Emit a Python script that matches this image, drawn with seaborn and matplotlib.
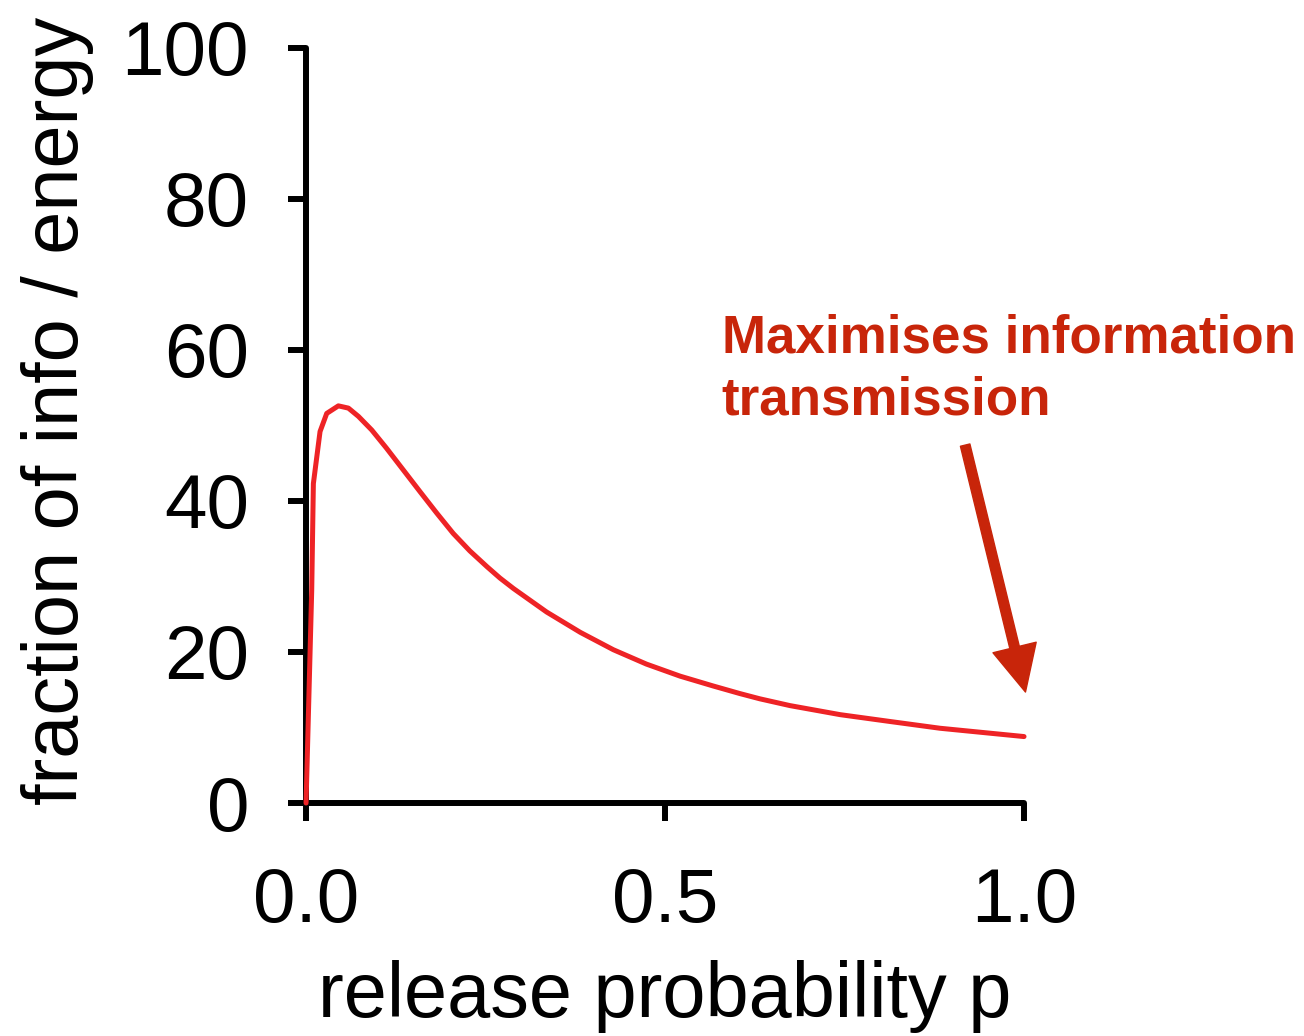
import matplotlib
matplotlib.use("Agg")
import matplotlib.pyplot as plt
import seaborn as sns
import pandas as pd

# Fraction of information per unit energy versus synaptic release probability
release_p = [0.0, 0.0079, 0.0102, 0.0195, 0.0288, 0.045, 0.059, 0.073, 0.0915,
             0.112, 0.1355, 0.159, 0.182, 0.205, 0.228, 0.252, 0.27, 0.289,
             0.335, 0.382, 0.428, 0.474, 0.521, 0.567, 0.604, 0.632, 0.674,
             0.744, 0.813, 0.883, 1.0]
info_per_energy = [0.0, 28.2, 42.3, 49.2, 51.6, 52.6, 52.3, 51.2, 49.4,
                   47.0, 44.1, 41.2, 38.4, 35.7, 33.4, 31.3, 29.8, 28.4,
                   25.3, 22.6, 20.3, 18.4, 16.8, 15.5, 14.5, 13.8, 12.9,
                   11.7, 10.8, 9.9, 8.8]

x_ticks = [0.0, 0.5, 1.0]
x_tick_labels = ["0.0", "0.5", "1.0"]
y_ticks = [0, 20, 40, 60, 80, 100]
y_tick_labels = ["0", "20", "40", "60", "80", "100"]

annotation_lines = ["Maximises information", "transmission"]

curve_color = "#EE2326"
note_color = "#C8250A"

sns.set_theme(style="white")
plt.rcParams["font.family"] = ["Liberation Sans", "DejaVu Sans"]

df = pd.DataFrame({"p": release_p, "ratio": info_per_energy})

fig = plt.figure(figsize=(13.04, 10.36), dpi=100)
ax = fig.add_axes([0.2347, 0.2249, 0.5506, 0.7288])

sns.lineplot(data=df, x="p", y="ratio", ax=ax, color=curve_color, lw=3.6,
             clip_on=False, zorder=3, solid_capstyle="round",
             solid_joinstyle="round")

ax.set_xlim(0, 1)
ax.set_ylim(0, 100)
ax.set_xticks(x_ticks)
ax.set_xticklabels(x_tick_labels)
ax.set_yticks(y_ticks)
ax.set_yticklabels(y_tick_labels)

sns.despine(ax=ax)
for side in ("left", "bottom"):
    ax.spines[side].set_linewidth(4.3)
    ax.spines[side].set_color("black")
    ax.spines[side].set_capstyle("round")

ax.tick_params(axis="both", which="major", direction="out", length=13,
               width=4.3, color="black", labelsize=55, labelcolor="black")
ax.tick_params(axis="x", pad=33)
ax.tick_params(axis="y", pad=28)
ax.xaxis.set_ticks_position("bottom")
ax.yaxis.set_ticks_position("left")

ax.set_xlabel("release probability p", fontsize=55.8, color="black", labelpad=16)
ax.set_ylabel("fraction of info / energy", fontsize=55.8, color="black")
ax.yaxis.set_label_coords(-0.295, 0.52)

# Callout text and arrow pointing at the p = 1 end of the curve
ax.text(0.579, 59.7, annotation_lines[0], fontsize=38.2, fontweight="bold",
        color=note_color, ha="left", va="baseline", clip_on=False)
ax.text(0.579, 51.4, annotation_lines[1], fontsize=38.2, fontweight="bold",
        color=note_color, ha="left", va="baseline", clip_on=False)
ax.annotate("", xy=(1.002, 14.7), xytext=(0.918, 47.4),
            xycoords="data", textcoords="data", annotation_clip=False,
            arrowprops=dict(width=7, headwidth=32, headlength=33, shrink=0,
                            facecolor=note_color, edgecolor=note_color))

fig.savefig("out.png", dpi=100, facecolor="white")
